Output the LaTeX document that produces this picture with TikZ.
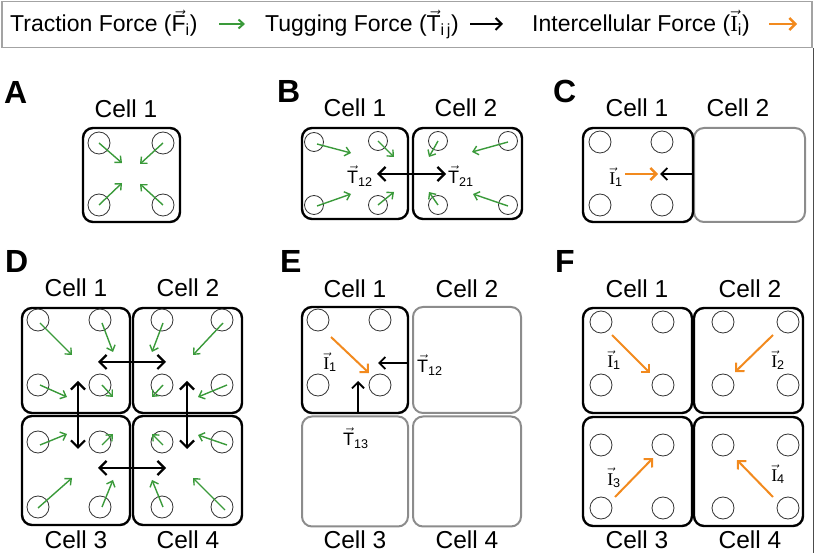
\documentclass[tikz,border=0pt]{standalone}
\usepackage{fix-cm}
\usepackage{amsmath}
\usepackage{fontspec}
\setmainfont{Liberation Sans}
\newfontfamily\serfont{Liberation Serif}
\usetikzlibrary{arrows.meta}
\definecolor{grn}{HTML}{3A9A3A}
\definecolor{org}{HTML}{F28A1E}
\definecolor{gry}{HTML}{8C8C8C}
\newcommand\vF{\ensuremath{\vec{\text{F}}}}
\newcommand\vT{\ensuremath{\vec{\text{T}}}}
\newcommand\vI{\ensuremath{\vec{\text{\serfont I}}}}
\begin{document}
\begin{tikzpicture}[x=1pt,y=-1pt,
  cellk/.style={draw=black, line width=2.4pt, rounded corners=10pt, rectangle, inner sep=0pt},
  cellg/.style={draw=gry, line width=2pt, rounded corners=10pt, rectangle, inner sep=0pt},
  pore/.style={circle, draw=black!80, line width=0.8pt, minimum size=22pt, inner sep=0pt},
  garrow/.style={draw=grn, line width=1.4pt, -{Straight Barb[length=5pt,width=9pt]}},
  karrow/.style={draw=black, line width=2.2pt, -{Straight Barb[length=7pt,width=14pt]}},
  kdarrow/.style={draw=black, line width=2.2pt, {Straight Barb[length=7pt,width=14pt]}-{Straight Barb[length=7pt,width=14pt]}},
  oarrow/.style={draw=org, line width=2.4pt, -{Straight Barb[length=6pt,width=12pt]}},
  lbl/.style={font=\fontsize{24.5}{28}\selectfont, inner sep=0pt, anchor=base},
  leg/.style={font=\fontsize{23}{27}\selectfont, inner sep=0pt, anchor=base west},
  flab/.style={font=\fontsize{18}{20}\selectfont, inner sep=0pt},
  panel/.style={font=\bfseries\fontsize{32}{36}\selectfont, inner sep=0pt, anchor=base west}]
\useasboundingbox (0,0) rectangle (815,553);
% legend
\node[draw=gry!80, line width=1.5pt, minimum width=810pt, minimum height=46pt, anchor=north west, inner sep=0pt] (legbox) at (1,1) {};
\node[leg] (l1) at (10,32) {Traction Force (\vF$_{\text{i}}$)};
\coordinate (g1s) at (219,24); \coordinate (g1e) at (245,24);
\draw[garrow, line width=2pt] (g1s) -- (g1e);
\node[leg] (l2) at (265,32) {Tugging Force (\vT$_{\text{i\,j}}$)};
\coordinate (k1s) at (470,24); \coordinate (k1e) at (503,24);
\draw[karrow, line width=2pt, -{Straight Barb[length=6pt,width=12pt]}] (k1s) -- (k1e);
\node[leg] (l3) at (532,32) {Intercellular Force (\vI$_{\text{i}}$)};
\coordinate (o1s) at (769,24); \coordinate (o1e) at (797,24);
\draw[oarrow] (o1s) -- (o1e);
\draw[black!70, line width=1pt] (813,48) -- (813,553);

% panel letters
\node[panel] (pA) at (4,104) {A};
\node[panel] (pB) at (277,103) {B};
\node[panel] (pC) at (553,103) {C};
\node[panel] (pD) at (5,273) {D};
\node[panel] (pE) at (280,273) {E};
\node[panel] (pF) at (555,273) {F};

% ---------- A
\node[lbl] (Al1) at (126,118) {Cell 1};
\node[cellk, minimum width=97pt, minimum height=94pt] (A1) at (131.5,175) {};
\node[pore] (A1a) at (99,143) {};
\node[pore] (A1b) at (163,143) {};
\node[pore] (A1c) at (99,205) {};
\node[pore] (A1d) at (163,205) {};
\draw[garrow] (A1a.center) -- (122,163);
\draw[garrow] (A1b.center) -- (140,164);
\draw[garrow] (A1c.center) -- (122,183);
\draw[garrow] (A1d.center) -- (140,184);

% ---------- B
\node[lbl] (Bl1) at (355,117) {Cell 1};
\node[lbl] (Bl2) at (466,117) {Cell 2};
\node[cellk, minimum width=106pt, minimum height=91pt] (B1) at (355,173.5) {};
\node[cellk, minimum width=109pt, minimum height=91pt] (B2) at (467.5,173.5) {};
\node[pore, minimum size=19pt] (B1a) at (314,142) {};
\node[pore, minimum size=19pt] (B1b) at (378,141) {};
\node[pore, minimum size=19pt] (B1c) at (314,205) {};
\node[pore, minimum size=19pt] (B1d) at (378,205) {};
\node[pore, minimum size=19pt] (B2a) at (438,141) {};
\node[pore, minimum size=19pt] (B2b) at (508,141) {};
\node[pore, minimum size=19pt] (B2c) at (438,205) {};
\node[pore, minimum size=19pt] (B2d) at (508,205) {};
\draw[garrow] (317,144) -- (351,153);
\draw[garrow] (B1b.center) -- (394,157);
\draw[garrow] (317,206) -- (351,194);
\draw[garrow] (B1d.center) -- (394,192);
\draw[garrow] (B2a.center) -- (429,157);
\draw[garrow] (508,142) -- (472,152);
\draw[garrow] (B2c.center) -- (429,192);
\draw[garrow] (508,206) -- (473,194);
\coordinate (Bt1) at (377,174); \coordinate (Bt2) at (446,174);
\draw[kdarrow] (Bt1) -- (Bt2);
\node[flab] (BT12) at (360,176) {\vT$_{\text{12}}$};
\node[flab] (BT21) at (461,176) {\vT$_{\text{21}}$};

% ---------- C
\node[lbl] (Cl1) at (637,117) {Cell 1};
\node[lbl] (Cl2) at (738,117) {Cell 2};
\node[cellg, minimum width=111pt, minimum height=94pt] (C2) at (749.5,175) {};
\node[cellk, minimum width=110pt, minimum height=94pt] (C1) at (638,175) {};
\node[pore] (C1a) at (600,142) {};
\node[pore] (C1b) at (662,142) {};
\node[pore] (C1c) at (600,205) {};
\node[pore] (C1d) at (662,205) {};
\coordinate (Co1) at (625,174); \coordinate (Co2) at (658,174);
\draw[oarrow] (Co1) -- (Co2);
\draw[karrow, line width=1.8pt, -{Straight Barb[length=6pt,width=12pt]}] (C1.east |- Co2) -- (660,174);
\node[flab] (CI1) at (616,177) {\vI$_{\text{1}}$};

% ---------- D
\node[lbl] (Dl1) at (76,297) {Cell 1};
\node[lbl] (Dl2) at (188,297) {Cell 2};
\node[lbl] (Dl3) at (76,548) {Cell 3};
\node[lbl] (Dl4) at (188,548) {Cell 4};
\node[cellk, minimum width=108pt, minimum height=105pt] (D1) at (76,360.5) {};
\node[cellk, minimum width=109pt, minimum height=105pt] (D2) at (187.5,360.5) {};
\node[cellk, minimum width=108pt, minimum height=109pt] (D3) at (76,470.5) {};
\node[cellk, minimum width=109pt, minimum height=109pt] (D4) at (187.5,470.5) {};
\foreach \n/\x/\y in {D1a/38/320, D1b/100/320, D1c/38/385, D1d/100/385,
                      D2a/162/320, D2b/222/320, D2c/162/385, D2d/222/385,
                      D3a/38/442, D3b/100/442, D3c/38/507, D3d/100/507,
                      D4a/162/442, D4b/222/442, D4c/162/507, D4d/222/507}
  \node[pore] (\n) at (\x,\y) {};
\draw[garrow] (40,323) -- (72,355);
\draw[garrow] (102,323) -- (113,352);
\draw[garrow] (40,385) -- (67,397);
\draw[garrow] (102,385) -- (113,397);
\draw[garrow] (163,323) -- (152,352);
\draw[garrow] (223,323) -- (193,355);
\draw[garrow] (227,385) -- (198,397);
\draw[garrow] (163,385) -- (152,397);
\draw[garrow] (40,445) -- (67,434);
\draw[garrow] (102,445) -- (113,434);
\draw[garrow] (38,508) -- (72,478);
\draw[garrow] (102,507) -- (113,480);
\draw[garrow] (163,445) -- (152,434);
\draw[garrow] (227,445) -- (198,435);
\draw[garrow] (163,507) -- (152,480);
\draw[garrow] (225,510) -- (193,478);
\coordinate (Dh1) at (98,362); \coordinate (Dh2) at (166,362);
\coordinate (Dh3) at (98,468); \coordinate (Dh4) at (166,468);
\coordinate (Dv1) at (78,381); \coordinate (Dv2) at (78,449);
\coordinate (Dv3) at (187,381); \coordinate (Dv4) at (187,449);
\draw[kdarrow] (Dh1) -- (Dh2);
\draw[kdarrow] (Dh3) -- (Dh4);
\draw[kdarrow] (Dv1) -- (Dv2);
\draw[kdarrow] (Dv3) -- (Dv4);

% ---------- E
\node[lbl] (El1) at (355,298) {Cell 1};
\node[lbl] (El2) at (467,298) {Cell 2};
\node[lbl] (El3) at (355,548) {Cell 3};
\node[lbl] (El4) at (467,548) {Cell 4};
\node[cellg, minimum width=108pt, minimum height=106pt] (E2) at (467,360) {};
\node[cellg, minimum width=106pt, minimum height=110pt] (E3) at (355,471.5) {};
\node[cellg, minimum width=108pt, minimum height=110pt] (E4) at (467,471.5) {};
\node[cellk, minimum width=106pt, minimum height=106pt] (E1) at (355,360) {};
\node[pore] (E1a) at (318,320) {};
\node[pore] (E1b) at (380,320) {};
\node[pore] (E1c) at (318,385) {};
\node[pore] (E1d) at (380,385) {};
\coordinate (Eo1) at (331,337); \coordinate (Eo2) at (369,373);
\draw[oarrow, line width=2pt] (Eo1) -- (Eo2);
\node[flab] (EI1) at (330,362) {\vI$_{\text{1}}$};
\coordinate (Ek1) at (378,363);
\draw[karrow, line width=1.8pt, -{Straight Barb[length=6pt,width=12pt]}] (E1.east |- Ek1) -- (Ek1);
\node[flab] (ET12) at (430,365) {\vT$_{\text{12}}$};
\coordinate (Ek2) at (358,381);
\draw[karrow, line width=1.8pt, -{Straight Barb[length=6pt,width=12pt]}] (E1.south -| Ek2) -- (Ek2);
\node[flab] (ET13) at (356,438) {\vT$_{\text{13}}$};

% ---------- F
\node[lbl] (Fl1) at (637,298) {Cell 1};
\node[lbl] (Fl2) at (750,298) {Cell 2};
\node[lbl] (Fl3) at (637,548) {Cell 3};
\node[lbl] (Fl4) at (750,548) {Cell 4};
\node[cellk, minimum width=109pt, minimum height=105pt] (F1) at (637.5,360.5) {};
\node[cellk, minimum width=109pt, minimum height=105pt] (F2) at (748.5,360.5) {};
\node[cellk, minimum width=109pt, minimum height=109pt] (F3) at (637.5,471.5) {};
\node[cellk, minimum width=109pt, minimum height=109pt] (F4) at (748.5,471.5) {};
\foreach \n/\x/\y in {F1a/601/322, F1b/663/322, F1c/601/385, F1d/663/385,
                      F2a/723/322, F2b/788/322, F2c/723/385, F2d/788/385,
                      F3a/601/445, F3b/663/445, F3c/601/508, F3d/663/508,
                      F4a/723/445, F4b/788/445, F4c/723/508, F4d/788/508}
  \node[pore] (\n) at (\x,\y) {};
\draw[oarrow, line width=2pt] (612,335) -- (650,373);
\draw[oarrow, line width=2pt] (773,335) -- (735,372);
\draw[oarrow, line width=2pt] (615,497) -- (653,458);
\draw[oarrow, line width=2pt] (773,497) -- (737,460);
\node[flab] (FI1) at (614,360) {\vI$_{\text{1}}$};
\node[flab] (FI2) at (778,360) {\vI$_{\text{2}}$};
\node[flab] (FI3) at (614,478) {\vI$_{\text{3}}$};
\node[flab] (FI4) at (778,474) {\vI$_{\text{4}}$};
\end{tikzpicture}
\end{document}
